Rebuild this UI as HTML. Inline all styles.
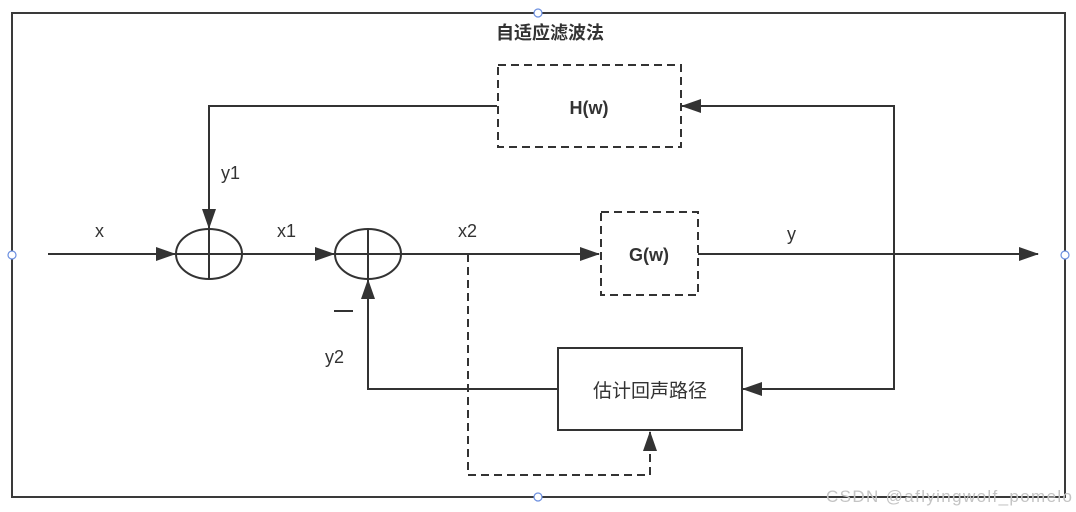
<!DOCTYPE html>
<html><head><meta charset="utf-8"><style>
html,body{margin:0;padding:0;background:#fff;}
svg{display:block;}
text{font-family:"Liberation Sans","Noto Sans CJK SC",sans-serif;fill:#333;}
</style></head><body>
<svg width="1076" height="512" viewBox="0 0 1076 512">
<defs>
<marker id="b" markerWidth="20" markerHeight="14" refX="19" refY="7" orient="auto" markerUnits="userSpaceOnUse">
<path d="M0,0 L20,7 L0,14 Z" fill="#333"/></marker>
</defs>
<rect x="12" y="13" width="1053" height="484" fill="none" stroke="#3a3a3a" stroke-width="2"/>
<circle cx="538" cy="13" r="4" fill="#fff" stroke="#6b8fe0" stroke-width="1.2"/>
<circle cx="538" cy="497" r="4" fill="#fff" stroke="#6b8fe0" stroke-width="1.2"/>
<circle cx="12" cy="255" r="4" fill="#fff" stroke="#6b8fe0" stroke-width="1.2"/>
<circle cx="1065" cy="255" r="4" fill="#fff" stroke="#6b8fe0" stroke-width="1.2"/>
<text x="496" y="39" font-size="18" font-weight="bold">自适应滤波法</text>

<g stroke="#333" stroke-width="2" fill="none">
<rect x="498" y="65" width="183" height="82" stroke-dasharray="8,5"/>
<rect x="601" y="212" width="97" height="83" stroke-dasharray="8,5"/>
<rect x="558" y="348" width="184" height="82" stroke="#333"/>
<ellipse cx="209" cy="254" rx="33" ry="25"/>
<line x1="176" y1="254" x2="242" y2="254"/><line x1="209" y1="229" x2="209" y2="279"/>
<ellipse cx="368" cy="254" rx="33" ry="25"/>
<line x1="335" y1="254" x2="401" y2="254"/><line x1="368" y1="229" x2="368" y2="279"/>
<line x1="48" y1="254" x2="175" y2="254" marker-end="url(#b)"/>
<polyline points="497,106 209,106 209,228" marker-end="url(#b)"/>
<line x1="242" y1="254" x2="334" y2="254" marker-end="url(#b)"/>
<line x1="401" y1="254" x2="599" y2="254" marker-end="url(#b)"/>
<line x1="698" y1="254" x2="1038" y2="254" marker-end="url(#b)"/>
<polyline points="894,254 894,106 682,106" marker-end="url(#b)"/>
<polyline points="894,254 894,389 743,389" marker-end="url(#b)"/>
<polyline points="558,389 368,389 368,280" marker-end="url(#b)"/>
<polyline points="468,254 468,475 650,475 650,432" stroke-dasharray="8,5" marker-end="url(#b)"/>
<line x1="334" y1="311" x2="353" y2="311"/>
</g>
<text x="589" y="114" font-size="18" font-weight="bold" text-anchor="middle">H(w)</text>
<text x="649" y="261" font-size="18" font-weight="bold" text-anchor="middle">G(w)</text>
<text x="650" y="397" font-size="19" text-anchor="middle">估计回声路径</text>
<text x="95" y="237" font-size="18">x</text>
<text x="277" y="237" font-size="18">x1</text>
<text x="458" y="237" font-size="18">x2</text>
<text x="787" y="240" font-size="18">y</text>
<text x="221" y="179" font-size="18">y1</text>
<text x="325" y="363" font-size="18">y2</text>
<text x="826" y="502" font-size="17" textLength="246" style="fill:#c4c4c4">CSDN @aflyingwolf_pomelo</text>
</svg>
</body></html>
